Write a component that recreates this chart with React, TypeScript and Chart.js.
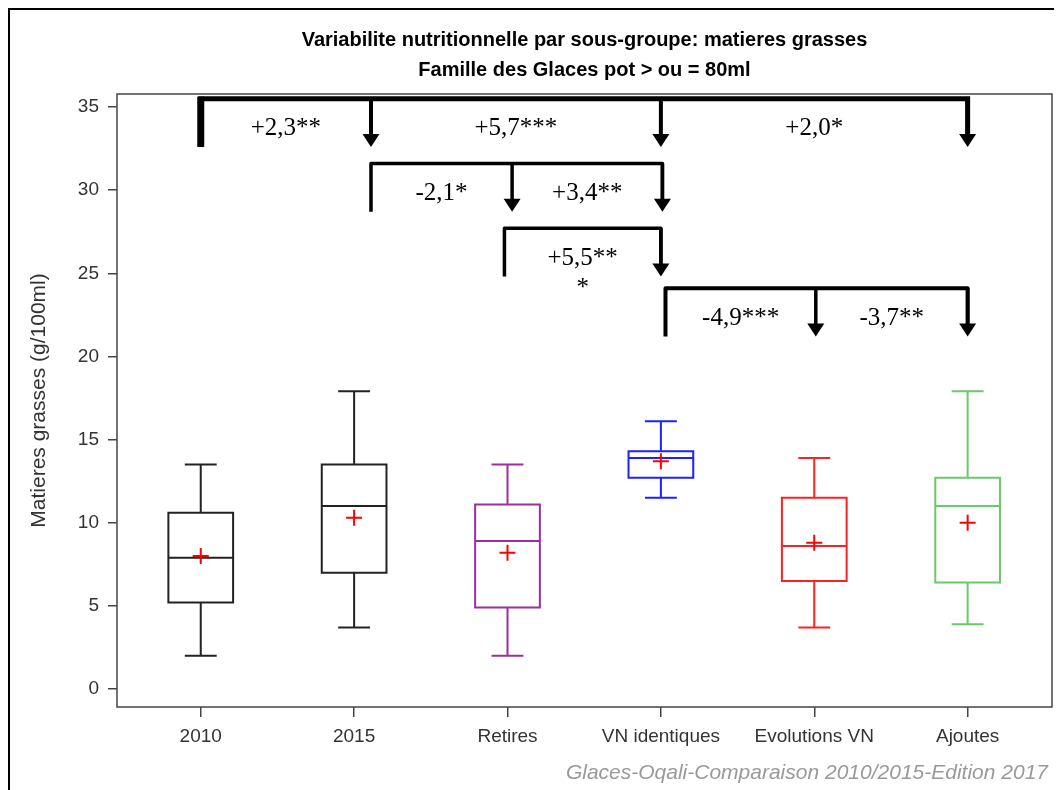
import React, { useEffect, useRef } from "react";
import { Chart, registerables } from "chart.js";

Chart.register(...registerables);

const categories = ["2010", "2015", "Retires", "VN identiques", "Evolutions VN", "Ajoutes"];
const minValues = [2.0, 3.7, 2.0, 11.5, 3.7, 3.9];
const q1Values = [5.2, 7.0, 4.9, 12.7, 6.5, 6.4];
const medianValues = [7.9, 11.0, 8.9, 13.9, 8.6, 11.0];
const q3Values = [10.6, 13.5, 11.1, 14.3, 11.5, 12.7];
const maxValues = [13.5, 17.9, 13.5, 16.1, 13.9, 17.9];
const meanValues = [8.0, 10.3, 8.2, 13.7, 8.8, 10.0];
const boxColors = ["#222222", "#222222", "#9B2F9B", "#2020FF", "#FF2020", "#66CC66"];
const yTicks = [0, 5, 10, 15, 20, 25, 30, 35];

// comparison brackets (anchors in category units, levels in g/100ml)
const bracketStarts = [0, 1.11, 1.98, 3.03];
const bracketLevels = [35.5, 31.6, 27.7, 24.1];
const bracketTargets = [[1.11, 3.0, 5.0], [2.03, 3.01], [3.0], [4.01, 5.0]];
const bracketLabels = [["+2,3**", "+5,7***", "+2,0*"], ["-2,1*", "+3,4**"], ["+5,5**\n*"], ["-4,9***", "-3,7**"]];

const titleLines = ["Variabilite nutritionnelle par sous-groupe: matieres grasses", "Famille des Glaces pot > ou = 80ml"];
const yTitle = "Matieres grasses (g/100ml)";
const footer = "Glaces-Oqali-Comparaison 2010/2015-Edition 2017";

const W = 1054;
const H = 782;
const AREA_LEFT = 109;
const AREA_TOP = 86;
const AREA_RIGHT = 1047;
const AREA_BOTTOM = 699;
const SANS = "'Liberation Sans Narrow', 'Liberation Sans', Arial, sans-serif";

const boxPlugin = {
  id: "boxes",
  beforeDatasetsDraw(chart: any) {
    const ctx = chart.ctx;
    const xs = chart.scales.x;
    const ys = chart.scales.y;
    ctx.save();
    categories.forEach((_, i) => {
      const cx = xs.getPixelForValue(i);
      const hw = xs.getPixelForValue(i + 0.211) - cx;
      const cw = xs.getPixelForValue(i + 0.104) - cx;
      ctx.strokeStyle = boxColors[i];
      ctx.lineWidth = 2;
      const yMin = ys.getPixelForValue(minValues[i]);
      const yQ1 = ys.getPixelForValue(q1Values[i]);
      const yMed = ys.getPixelForValue(medianValues[i]);
      const yQ3 = ys.getPixelForValue(q3Values[i]);
      const yMax = ys.getPixelForValue(maxValues[i]);
      ctx.beginPath();
      ctx.rect(cx - hw, yQ3, 2 * hw, yQ1 - yQ3);
      ctx.moveTo(cx - hw, yMed);
      ctx.lineTo(cx + hw, yMed);
      ctx.moveTo(cx, yQ3);
      ctx.lineTo(cx, yMax);
      ctx.moveTo(cx - cw, yMax);
      ctx.lineTo(cx + cw, yMax);
      ctx.moveTo(cx, yQ1);
      ctx.lineTo(cx, yMin);
      ctx.moveTo(cx - cw, yMin);
      ctx.lineTo(cx + cw, yMin);
      ctx.stroke();
    });
    ctx.restore();
  },
  afterDraw(chart: any) {
    const ctx = chart.ctx;
    const xs = chart.scales.x;
    const ys = chart.scales.y;
    const a = chart.chartArea;
    ctx.save();
    // plot frame
    ctx.strokeStyle = "#444444";
    ctx.lineWidth = 1.5;
    ctx.strokeRect(a.left, a.top, a.right - a.left, a.bottom - a.top);

    // brackets
    const widths = [5, 3.5, 3.5, 4];
    bracketStarts.forEach((start, b) => {
      const level = bracketLevels[b];
      const targets = bracketTargets[b];
      const yTop = ys.getPixelForValue(level);
      const yBot = ys.getPixelForValue(level - 2.9);
      const x0 = xs.getPixelForValue(start);
      const xEnd = xs.getPixelForValue(targets[targets.length - 1]);
      ctx.strokeStyle = "#000";
      ctx.fillStyle = "#000";
      ctx.lineJoin = b === 0 ? "miter" : "round";
      ctx.lineCap = "butt";
      ctx.lineWidth = widths[b];
      ctx.beginPath();
      ctx.moveTo(x0, yBot);
      ctx.lineTo(x0, yTop);
      ctx.lineTo(xEnd, yTop);
      ctx.lineTo(xEnd, yBot - 12);
      ctx.stroke();
      if (b === 0) {
        ctx.lineWidth = 7;
        ctx.beginPath();
        ctx.moveTo(x0, yBot);
        ctx.lineTo(x0, yTop - 2);
        ctx.stroke();
      }
      let prev = start;
      targets.forEach((t, k) => {
        const xt = xs.getPixelForValue(t);
        ctx.lineWidth = b === 0 ? 4 : 3.5;
        ctx.beginPath();
        ctx.moveTo(xt, yTop);
        ctx.lineTo(xt, yBot - 12);
        ctx.stroke();
        ctx.beginPath();
        ctx.moveTo(xt - 8.5, yBot - 13);
        ctx.lineTo(xt + 8.5, yBot - 13);
        ctx.lineTo(xt, yBot);
        ctx.closePath();
        ctx.fill();
        const mid = xs.getPixelForValue((prev + t) / 2);
        const ly = ys.getPixelForValue(level - 1.8);
        ctx.font = "25px 'Liberation Serif', 'Times New Roman', serif";
        ctx.textAlign = "center";
        ctx.textBaseline = "middle";
        bracketLabels[b][k].split("\n").forEach((line, li) => {
          ctx.fillText(line, mid, ly + li * 30);
        });
        prev = t;
      });
    });

    // titles
    const cx = (a.left + a.right) / 2;
    ctx.fillStyle = "#000";
    ctx.textAlign = "center";
    ctx.textBaseline = "middle";
    ctx.font = "bold 20px " + SANS;
    ctx.fillText(titleLines[0], cx, 32);
    ctx.fillText(titleLines[1], cx, 62);

    // y title
    ctx.save();
    ctx.translate(31, (a.top + a.bottom) / 2);
    ctx.rotate(-Math.PI / 2);
    ctx.font = "21px " + SANS;
    ctx.fillStyle = "#333";
    ctx.fillText(yTitle, 0, 0);
    ctx.restore();

    // footer
    ctx.font = "italic 21px " + SANS;
    ctx.fillStyle = "#999999";
    ctx.textAlign = "right";
    ctx.fillText(footer, 1040, 765);

    // outer border
    ctx.fillStyle = "#000";
    ctx.fillRect(0, 0, 2, H);
    ctx.fillRect(0, 0, W, 2);
    ctx.restore();
  },
};

export default function App() {
  const ref = useRef<HTMLCanvasElement>(null);
  useEffect(() => {
    if (!ref.current) return;
    const chart = new Chart(ref.current, {
      type: "scatter",
      data: {
        datasets: [
          {
            label: "Moyenne",
            data: meanValues.map((v, i) => ({ x: i, y: v })),
            pointStyle: "cross",
            pointRadius: 8,
            pointBorderWidth: 2,
            borderColor: "#FF0000",
            backgroundColor: "#FF0000",
          },
        ],
      },
      options: {
        responsive: false,
        animation: false,
        layout: { padding: { left: 0, top: AREA_TOP, right: W - AREA_RIGHT, bottom: 0 } },
        plugins: { legend: { display: false }, tooltip: { enabled: false }, title: { display: false } },
        scales: {
          x: {
            type: "linear",
            min: -0.546,
            max: 5.55,
            afterBuildTicks: (s: any) => {
              s.ticks = categories.map((_, i) => ({ value: i }));
            },
            afterFit: (s: any) => {
              s.height = H - AREA_BOTTOM;
            },
            ticks: {
              autoSkip: false,
              maxRotation: 0,
              padding: 8,
              color: "#333",
              font: { family: SANS, size: 19 },
              callback: (v: any) => categories[v] ?? "",
            },
            grid: { drawOnChartArea: false, drawTicks: true, tickLength: 10, color: "#444", lineWidth: 1.5 },
            border: { display: false },
          },
          y: {
            min: -1.08,
            max: 35.78,
            afterBuildTicks: (s: any) => {
              s.ticks = yTicks.map((v) => ({ value: v }));
            },
            afterFit: (s: any) => {
              s.width = AREA_LEFT;
            },
            ticks: {
              padding: 9,
              color: "#333",
              font: { family: SANS, size: 19 },
            },
            grid: { drawOnChartArea: false, drawTicks: true, tickLength: 9, color: "#444", lineWidth: 1.5 },
            border: { display: false },
          },
        },
      },
      plugins: [boxPlugin],
    });
    return () => chart.destroy();
  }, []);
  return <canvas ref={ref} width={W} height={H} style={{ display: "block", width: W, height: H }} />;
}
